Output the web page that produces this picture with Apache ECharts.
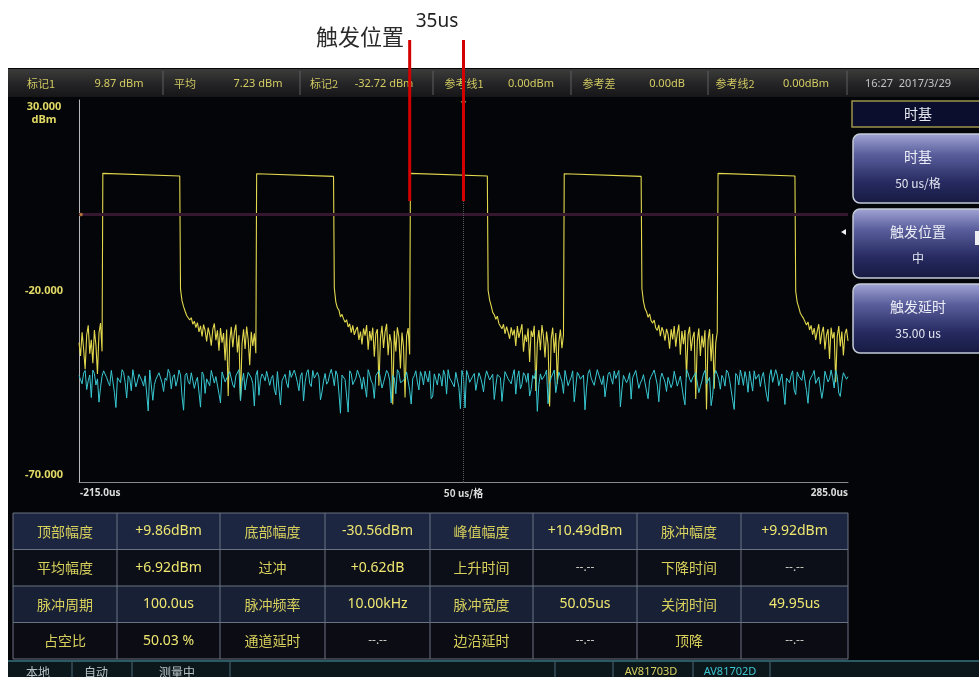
<!DOCTYPE html>
<html><head><meta charset="utf-8">
<script src="https://cdn.jsdelivr.net/npm/echarts@6/dist/echarts.min.js"></script>
<style>html,body{margin:0;padding:0;background:#fff;}#c{width:979px;height:677px;}</style>
</head><body><div id="c"></div>
<script>
// ---------------- data ----------------
const yTickValues = [30, -20, -70];
const yTickLabels = ['30.000', '-20.000', '-70.000'];
const yUnit = 'dBm';
const xTickValues = [-215, 35, 285];
const xTickLabels = ['-215.0us', '50 us/格', '285.0us'];
const refLine1Dbm = 0;
const centerTime = 35;

const annotationTimes = [0, 35];
const annotationTexts = ['触发位置', '35us'];

// pulse edges (us) and top levels (dBm)
const pulseRise = [-199.5, -99.5, 0.5, 100.5, 200.5];
const pulseFall = [-149.5, -49.5, 50.5, 150.5, 250.5];
const pulseTopStart = [10.8, 10.7, 10.8, 10.7, 10.8];
const pulseTopEnd = [10.1, 10.0, 10.1, 10.0, 10.1];

// yellow trace between pulses, sampled every 1 us from each start time
const yellowStep = 1;
const yellowGapStart = [-215, -149, -49, 51, 151, 251];
const yellowGap0 = [-33.5,-37.0,-30.8,-35.2,-40.5,-31.6,-29.0,-36.4,-32.8,-38.9,-30.2,-34.1,-41.7,-31.0,-28.4,-35.8];
const yellowGap1 = [-19.5,-22.6,-24.1,-25.3,-26.4,-25.9,-27.6,-27.0,-28.7,-27.9,
 -29.6,-28.3,-30.7,-29.1,-31.9,-28.8,-30.4,-33.2,-29.6,-31.4,
 -34.3,-30.0,-28.5,-32.9,-30.3,-35.6,-29.7,-33.5,-31.0,-38.2,
 -30.1,-47.5,-33.1,-29.4,-34.7,-30.8,-28.8,-36.1,-31.6,-48.6,
 -33.8,-30.0,-35.2,-29.3,-32.7,-39.4,-30.7,-34.4,-31.1,-36.3];
const yellowGap2 = [-19.2,-22.9,-24.4,-25.0,-26.8,-26.1,-27.3,-28.2,-27.5,-29.4,
 -28.6,-30.9,-29.0,-31.5,-30.2,-29.4,-32.8,-30.6,-34.0,-29.8,
 -31.7,-28.9,-35.4,-30.5,-33.0,-29.6,-37.2,-31.2,-30.0,-44.8,
 -32.4,-29.1,-34.9,-30.7,-28.6,-36.8,-31.3,-33.6,-49.7,-30.4,
 -35.8,-29.5,-32.1,-40.3,-30.9,-34.6,-47.9,-31.8,-29.7,-36.6];
const yellowGap3 = [-19.8,-22.4,-23.9,-25.6,-26.2,-27.4,-26.6,-28.5,-28.0,-29.9,
 -28.7,-31.2,-29.3,-30.8,-32.5,-29.5,-31.6,-30.1,-34.4,-29.2,
 -32.3,-30.6,-28.7,-35.9,-31.4,-33.3,-29.8,-38.6,-30.4,-32.0,
 -29.1,-46.2,-33.7,-30.2,-35.5,-28.9,-31.9,-37.4,-30.6,-34.1,
 -50.2,-32.6,-29.6,-36.2,-31.0,-44.3,-33.4,-30.1,-35.0,-31.5];
const yellowGap4 = [-19.4,-22.7,-24.6,-25.4,-26.9,-26.0,-27.8,-28.4,-27.6,-29.7,
 -30.3,-28.9,-31.8,-29.5,-30.6,-33.0,-29.9,-31.3,-35.1,-30.0,
 -32.7,-29.2,-34.6,-31.1,-28.8,-36.7,-30.5,-33.9,-30.2,-42.6,
 -31.5,-29.4,-35.7,-32.2,-30.7,-48.3,-33.2,-29.8,-37.0,-31.7,
 -34.8,-30.3,-51.0,-32.9,-30.0,-38.4,-31.2,-45.6,-33.6,-30.8];
const yellowGap5 = [-20.1,-23.0,-24.3,-25.8,-26.5,-27.1,-26.7,-28.9,-28.1,-30.2,
 -29.0,-31.4,-29.7,-32.8,-30.5,-28.7,-33.9,-30.9,-29.4,-35.3,
 -31.6,-30.0,-37.8,-29.6,-32.4,-30.8,-43.9,-31.9,-29.2,-34.5,
 -30.6,-36.9,-31.3,-29.9,-33.1];

// cyan trace: even samples (-215, -213 ... ) and odd samples (-214, -212 ...), 1 us apart overall
const cyanStart = -215;
const cyanStep = 2;
const cyanDbm = [
 -42.1,-44.3,-40.8,-43.5,-47.9,-41.6,-43.0,-45.2,-40.9,-42.7,
 -44.8,-41.3,-50.5,-42.4,-40.6,-43.9,-42.2,-46.1,-41.0,-43.6,
 -41.8,-44.9,-42.5,-40.7,-48.6,-43.1,-41.4,-44.0,-42.8,-40.5,
 -45.6,-41.9,-43.3,-42.0,-51.2,-41.5,-44.4,-40.9,-43.7,-42.3,
 -41.2,-46.8,-42.9,-40.8,-44.1,-42.6,-49.3,-41.7,-43.4,-41.1,
 -44.6,-42.2,-40.6,-43.8,-45.9,-41.3,-42.7,-50.1,-40.8,-43.2,
 -42.4,-41.0,-44.7,-42.1,-47.2,-40.9,-43.5,-41.8,-45.3,-42.6,
 -40.7,-43.9,-42.3,-48.8,-41.4,-44.2,-40.8,-43.0,-42.5,-46.4,
 -41.6,-43.7,-40.5,-44.8,-42.0,-52.0,-41.9,-43.3,-40.9,-44.5,
 -42.8,-41.2,-45.7,-42.4,-40.6,-43.6,-48.1,-41.5,-42.9,-44.0,
 -40.8,-43.4,-42.1,-46.9,-41.3,-44.3,-42.7,-40.7,-49.6,-42.2,
 -43.8,-41.1,-44.6,-42.5,-40.9,-47.5,-43.1,-41.6,-44.9,-42.0,
 -40.6,-43.5,-45.1,-41.8,-50.8,-42.6,-40.8,-43.9,-42.3,-46.0,
 -41.4,-44.1,-42.8,-40.5,-43.2,-48.4,-41.9,-42.7,-44.7,-41.0,
 -43.6,-42.2,-47.0,-40.9,-44.4,-42.0,-41.5,-45.8,-43.0,-51.5,
 -41.7,-42.9,-40.7,-44.2,-42.4,-46.6,-41.2,-43.7,-40.8,-44.8,
 -42.6,-49.0,-41.3,-43.1,-42.0,-45.4,-40.6,-43.8,-42.5,-41.1,
 -44.5,-47.7,-41.8,-42.9,-40.9,-43.4,-50.3,-42.1,-44.0,-41.4,
 -42.7,-40.8,-45.5,-43.3,-41.6,-48.2,-42.4,-40.7,-44.6,-43.0,
 -41.2,-46.3,-42.8,-44.1,-40.6,-43.6,-42.0,-49.8,-41.5,-43.9,
 -42.3,-40.9,-45.0,-41.7,-44.3,-42.6,-47.4,-40.8,-43.2,-42.1,
 -44.9,-41.3,-43.5,-51.0,-42.2,-40.7,-44.7,-42.9,-41.0,-46.2,
 -43.1,-41.8,-42.5,-44.4,-48.9,-40.6,-43.7,-42.0,-45.2,-41.6,
 -42.8,-44.0,-40.9,-47.1,-42.3,-43.4,-41.2,-49.4,-42.6,-40.8,
 -44.2,-42.1,-45.6,-41.5,-43.0,-42.7,-40.7,-46.7,-43.8,-41.9,
 -42.4];
const cyanDbmOdd = [
 -43.2,-41.5,-45.8,-42.0,-40.7,-44.6,-49.1,-42.3,-41.1,-43.9,
 -40.8,-46.5,-42.7,-44.0,-41.3,-48.0,-42.9,-40.6,-45.1,-41.8,
 -43.6,-42.2,-51.4,-41.0,-44.5,-42.8,-40.9,-46.3,-43.4,-41.6,
 -42.5,-44.9,-40.7,-47.6,-42.1,-43.7,-41.4,-45.5,-42.6,-50.4,
 -41.9,-43.0,-44.8,-40.8,-42.4,-46.9,-41.2,-43.8,-42.0,-40.6,
 -45.3,-42.7,-48.7,-41.5,-43.3,-40.9,-44.2,-42.1,-47.3,-41.7,
 -43.5,-40.7,-42.9,-45.7,-41.1,-49.8,-42.6,-44.1,-40.8,-43.1,
 -42.2,-46.1,-41.4,-43.9,-40.6,-45.0,-42.8,-41.3,-48.5,-43.6,
 -44.4,-41.8,-42.3,-40.9,-46.7,-42.0,-43.2,-51.7,-41.6,-44.7,
 -40.7,-43.0,-42.5,-47.8,-41.9,-44.3,-42.1,-40.8,-45.4,-43.5,
 -41.5,-49.3,-42.7,-40.6,-44.0,-43.4,-41.2,-46.0,-42.9,-40.9,
 -45.9,-42.3,-41.0,-43.8,-48.2,-41.7,-44.6,-42.4,-40.7,-47.0,
 -42.8,-43.1,-41.3,-45.2,-40.8,-50.6,-42.0,-44.2,-41.6,-43.7,
 -42.5,-46.4,-40.9,-43.3,-41.8,-44.8,-42.2,-48.9,-41.1,-43.0,
 -44.3,-40.6,-42.6,-45.6,-41.4,-43.9,-47.5,-42.1,-40.8,-44.5,
 -43.2,-41.9,-49.5,-42.7,-40.7,-44.0,-42.4,-46.8,-41.3,-43.6,
 -40.9,-45.1,-42.0,-43.5,-51.1,-41.6,-42.8,-44.7,-40.6,-43.3,
 -42.2,-47.9,-41.2,-44.4,-42.9,-40.8,-45.8,-41.7,-43.1,-48.3,
 -42.5,-40.7,-44.1,-41.9,-46.2,-43.4,-42.0,-40.9,-49.0,-41.5,
 -43.8,-42.6,-45.3,-41.0,-44.9,-42.3,-47.7,-40.6,-43.0,-42.7,
 -41.4,-46.6,-43.6,-40.8,-44.3,-50.0,-42.1,-41.8,-45.7,-42.9,
 -40.7,-43.2,-48.6,-41.6,-44.6,-42.4,-41.1,-46.5,-43.7,-40.9,
 -42.8,-45.0,-41.3,-47.2,-42.2,-43.9,-40.6,-44.8,-41.7,-49.7,
 -43.3,-42.0,-45.9,-41.2,-42.6,-40.8,-46.1,-43.5,-41.9,-44.2,
 -42.5,-48.1,-41.0,-43.8,-40.7,-45.4,-42.3,-47.6,-41.4,-43.1];

// status bar / panels / table texts
const statusLabels = ['标记1', '平均', '标记2', '参考线1', '参考差', '参考线2'];
const statusValues = ['9.87 dBm', '7.23 dBm', '-32.72 dBm', '0.00dBm', '0.00dB', '0.00dBm'];
const clockText = '16:27  2017/3/29';
const menuTitle = '时基';
const menuButtons = [['时基', '50 us/格'], ['触发位置', '中'], ['触发延时', '35.00 us']];
const tableRows = [
 ['顶部幅度', '+9.86dBm', '底部幅度', '-30.56dBm', '峰值幅度', '+10.49dBm', '脉冲幅度', '+9.92dBm'],
 ['平均幅度', '+6.92dBm', '过冲', '+0.62dB', '上升时间', '--.--', '下降时间', '--.--'],
 ['脉冲周期', '100.0us', '脉冲频率', '10.00kHz', '脉冲宽度', '50.05us', '关闭时间', '49.95us'],
 ['占空比', '50.03 %', '通道延时', '--.--', '边沿延时', '--.--', '顶降', '--.--']
];
const footerItems = ['本地', '自动', '测量中'];
const channelNames = ['AV81703D', 'AV81702D'];

// ---------------- build series ----------------
const yellowGaps = [yellowGap0, yellowGap1, yellowGap2, yellowGap3, yellowGap4, yellowGap5];
const yellowPoints = [];
function pushGap(k) {
  yellowGaps[k].forEach((v, i) => yellowPoints.push([yellowGapStart[k] + i * yellowStep, v]));
}
pushGap(0);
for (let k = 0; k < pulseRise.length; k++) {
  yellowPoints.push([pulseRise[k], pulseTopStart[k]]);
  yellowPoints.push([pulseFall[k], pulseTopEnd[k]]);
  pushGap(k + 1);
}
const cyanPoints = [];
cyanDbm.forEach((v, i) => {
  cyanPoints.push([cyanStart + i * cyanStep, v]);
  if (i < cyanDbmOdd.length) cyanPoints.push([cyanStart + 1 + i * cyanStep, cyanDbmOdd[i]]);
});

const CJK = '"Noto Sans CJK SC", sans-serif';
const LAT = '"Noto Sans", "Liberation Sans", sans-serif';

const chart = echarts.init(document.getElementById('c'), null, {renderer: 'canvas'});
chart.setOption({
  backgroundColor: '#ffffff',
  animation: false,
  grid: {left: 79, right: 131, top: 100, bottom: 195, show: false},
  xAxis: {
    type: 'value', min: -215, max: 285,
    axisLine: {show: true, onZero: false, lineStyle: {color: '#8a8a8a', width: 1}},
    axisTick: {show: false}, axisLabel: {show: false}, splitLine: {show: false}
  },
  yAxis: {
    type: 'value', min: -70, max: 30,
    axisLine: {show: true, onZero: false, lineStyle: {color: '#b8b8b8', width: 1}},
    axisTick: {show: false}, axisLabel: {show: false}, splitLine: {show: false}
  },
  series: [
    {
      type: 'line', data: yellowPoints, showSymbol: false, symbol: 'none', z: 3,
      lineStyle: {color: '#e2d84e', width: 1.1}, itemStyle: {color: '#e2d84e'},
      markLine: {
        silent: true, symbol: 'none', label: {show: false},
        data: [
          {yAxis: refLine1Dbm, lineStyle: {color: '#36172f', width: 3, type: 'solid'}},
          {xAxis: centerTime, lineStyle: {color: '#5a5a5a', width: 1, type: 'dotted'}}
        ]
      }
    },
    {
      type: 'line', data: cyanPoints, showSymbol: false, symbol: 'none', z: 4,
      lineStyle: {color: '#38c8d2', width: 1}, itemStyle: {color: '#38c8d2'}
    }
  ]
});

const px = v => chart.convertToPixel({gridIndex: 0}, [v, 0])[0];
const py = v => chart.convertToPixel({gridIndex: 0}, [0, v])[1];

function T(text, x, y, o) {
  o = o || {};
  return {
    type: 'text', z: o.z || 20, silent: true,
    style: {
      text: text, x: x, y: y,
      fill: o.fill || '#d8d060',
      font: (o.weight || 'normal') + ' ' + (o.size || 12) + 'px ' + (o.family || CJK),
      align: o.align || 'center', textAlign: o.align || 'center',
      verticalAlign: 'middle', textVerticalAlign: 'middle'
    }
  };
}
function R(x, y, w, h, fill, o) {
  o = o || {};
  return {
    type: 'rect', z: o.z || -5, silent: true,
    shape: {x: x, y: y, width: w, height: h, r: o.r || 0},
    style: {fill: fill, stroke: o.stroke || null, lineWidth: o.lw || 0}
  };
}
function L(x1, y1, x2, y2, color, w, o) {
  o = o || {};
  return {
    type: 'line', z: o.z || -3, silent: true,
    shape: {x1: x1, y1: y1, x2: x2, y2: y2},
    style: {stroke: color, lineWidth: w || 1, lineDash: o.dash || null}
  };
}

const g = [];
// screen background
g.push(R(8, 68, 971, 609, '#040508', {z: -10}));
// top status bar
g.push(R(8, 69, 971, 28, new echarts.graphic.LinearGradient(0, 0, 0, 1, [
  {offset: 0, color: '#3c3c3a'}, {offset: 0.5, color: '#262628'}, {offset: 1, color: '#161618'}]), {z: -8}));
[163, 300, 433, 571, 708, 847].forEach(x => g.push(L(x, 71, x, 95, '#5e5e60', 1)));
const statusLabelX = [41, 185, 324, 464, 599, 735];
const statusValueX = [119, 258, 384, 531, 667, 806];
statusLabels.forEach((s, i) => g.push(T(s, statusLabelX[i], 84, {size: 11, fill: '#cfc860'})));
statusValues.forEach((s, i) => g.push(T(s, statusValueX[i], 84, {size: 11, fill: '#d4cc62', family: LAT})));
g.push(T(clockText, 908, 84, {size: 11, fill: '#c4c4c4', family: LAT}));

// y labels
const yOff = [7, 0, -7];
yTickValues.forEach((v, i) => g.push(T(yTickLabels[i], 44, py(v) + yOff[i], {size: 11, weight: 'bold', fill: '#e2da66', family: LAT})));
g.push(T(yUnit, 44, py(yTickValues[0]) + 20, {size: 11, weight: 'bold', fill: '#e2da66', family: LAT}));
// x labels
const xb = py(-70) + 11;
g.push(T(xTickLabels[0], px(xTickValues[0]) + 1, xb, {size: 10, weight: 'bold', fill: '#dcdcdc', family: LAT, align: 'left'}));
g.push(T(xTickLabels[1], px(xTickValues[1]), xb, {size: 10, weight: 'bold', fill: '#dcdcdc', align: 'center'}));
g.push(T(xTickLabels[2], px(xTickValues[2]), xb, {size: 10, weight: 'bold', fill: '#dcdcdc', family: LAT, align: 'right'}));
// trigger marker at top center and reference dot
g.push({type: 'polygon', z: 6, silent: true, shape: {points: [[px(centerTime) - 3, py(30) + 1], [px(centerTime) + 3, py(30) + 1], [px(centerTime), py(30) + 6]]}, style: {fill: '#8a8440'}});
g.push({type: 'circle', z: 6, silent: true, shape: {cx: px(-215) + 2, cy: py(refLine1Dbm), r: 1.8}, style: {fill: '#b0703a'}});
g.push({type: 'polygon', z: 6, silent: true, shape: {points: [[841, 232], [846, 229], [846, 235]]}, style: {fill: '#f0f0f0'}});

// right panel
g.push(R(852, 101, 130, 26, '#0b0e2c', {z: -4, stroke: '#9a944a', lw: 1.5}));
g.push(T(menuTitle, 918, 114, {size: 14, fill: '#e6e8f2'}));
const btnY = [134, 209, 284];
menuButtons.forEach((b, i) => {
  g.push(R(853, btnY[i], 134, 69, new echarts.graphic.LinearGradient(0, 0, 0, 1, [
    {offset: 0, color: '#a2a6d6'}, {offset: 0.3, color: '#5a5e9c'}, {offset: 0.7, color: '#262a60'}, {offset: 1, color: '#161a40'}]),
    {z: -4, r: 7, stroke: '#c4ccd6', lw: 1.5}));
  g.push(T(b[0], 918, btnY[i] + 23, {size: 14, fill: '#eceef6'}));
  g.push(T(b[1], 918, btnY[i] + 49, {size: 12, fill: '#e4e6f0'}));
});
g.push(R(975, 231, 4, 14, '#f0f0f0', {z: -2}));

// table
const colX = [13, 117, 220, 325, 430, 533, 637, 741, 848];
const rowY = [513, 549.5, 586, 622.5, 659];
const rowFill = ['#1c2640', '#0c0e18', '#182036', '#0b0c14'];
tableRows.forEach((row, r) => {
  g.push(R(colX[0], rowY[r], colX[8] - colX[0], rowY[r + 1] - rowY[r], rowFill[r], {z: -4}));
  row.forEach((s, c) => {
    const cx = (colX[c] + colX[c + 1]) / 2, cy = (rowY[r] + rowY[r + 1]) / 2;
    if (c % 2 === 0) {
      g.push(T(s, cx, cy, {size: 14, fill: '#d8d05c'}));
    } else if (s === '--.--') {
      g.push(T(s, cx, cy, {size: 12, fill: '#c8c8c0', family: LAT}));
    } else {
      g.push(T(s, cx, cy, {size: 14, fill: '#efe770', family: LAT}));
    }
  });
});
colX.forEach(x => g.push(L(x, rowY[0], x, rowY[4], '#6a7282', 1)));
rowY.forEach(y => g.push(L(colX[0], y, colX[8], y, '#6a7282', 1)));

// footer
g.push(R(8, 660, 971, 17, '#0c171c', {z: -4}));
g.push(L(8, 661, 979, 661, '#2c5a64', 2));
[72, 132, 230, 555, 613, 693, 770].forEach(x => g.push(L(x, 662, x, 677, '#4a6a74', 1)));
const footerX = [38, 96, 177];
footerItems.forEach((s, i) => g.push(T(s, footerX[i], 672, {size: 12, fill: '#b8c2c4'})));
g.push(T(channelNames[0], 651, 672, {size: 11, fill: '#d8d060', family: LAT}));
g.push(T(channelNames[1], 730, 672, {size: 11, fill: '#3cc6d0', family: LAT}));

// annotations on top
annotationTimes.forEach(t => g.push(L(px(t), 40, px(t), 201, '#d40000', 3, {z: 60})));
g.push(T(annotationTexts[0], 360, 37, {size: 22, fill: '#2a2a2a', z: 60}));
g.push(T(annotationTexts[1], 437, 22, {size: 19, fill: '#1e1e1e', family: LAT, z: 60}));

chart.setOption({graphic: {elements: g}});
</script>
</body></html>
